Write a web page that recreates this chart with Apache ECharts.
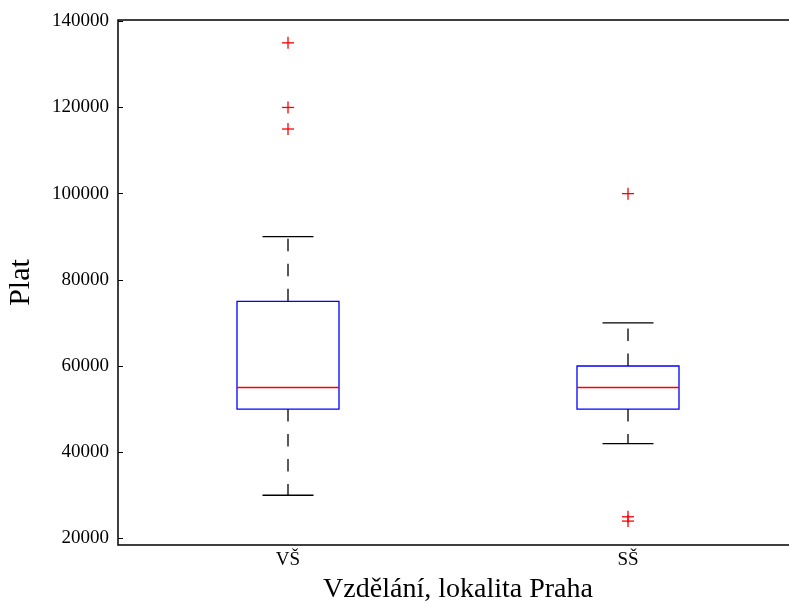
<!DOCTYPE html>
<html>
<head>
<meta charset="utf-8">
<script src="https://cdn.jsdelivr.net/npm/echarts@6/dist/echarts.min.js"></script>
<style>
html,body{margin:0;padding:0;background:#fff;}
#chart{width:789px;height:603px;}
</style>
</head>
<body>
<div id="chart"></div>
<script>
// ---- data ----
var categories = ['VŠ', 'SŠ'];
var whiskerLow = [30000, 42000];
var q1 = [50000, 50000];
var median = [55000, 55000];
var q3 = [75000, 60000];
var whiskerHigh = [90000, 70000];
var outliersVS = [135000, 120000, 115000];
var outliersSS = [100000, 25000, 24000];
var yTicks = [20000, 40000, 60000, 80000, 100000, 120000, 140000];

var boxData = categories.map(function (c, i) {
  return [i, whiskerLow[i], q1[i], median[i], q3[i], whiskerHigh[i]];
});
var flierData = outliersVS.map(function (v) { return [0, v]; })
  .concat(outliersSS.map(function (v) { return [1, v]; }));

var FONT = '"Liberation Serif", serif';
var chart = echarts.init(document.getElementById('chart'), null, {renderer: 'canvas'});

function renderBox(params, api) {
  var idx = api.value(0);
  var band = api.size([1, 0])[0];
  var bw = band * 0.3;
  var cw = bw / 2;
  var pLow = api.coord([idx, api.value(1)]);
  var pQ1 = api.coord([idx, api.value(2)]);
  var pMed = api.coord([idx, api.value(3)]);
  var pQ3 = api.coord([idx, api.value(4)]);
  var pHigh = api.coord([idx, api.value(5)]);
  var x = pQ1[0];
  var dash = {stroke: '#000', lineWidth: 1.3, lineDash: [12.5, 12.5]};
  var solid = {stroke: '#000', lineWidth: 1.3};
  return {
    type: 'group',
    children: [
      {type: 'line', shape: {x1: x, y1: pQ3[1], x2: x, y2: pHigh[1]}, style: dash},
      {type: 'line', shape: {x1: x, y1: pQ1[1], x2: x, y2: pLow[1]}, style: dash},
      {type: 'line', shape: {x1: x - cw / 2, y1: pHigh[1], x2: x + cw / 2, y2: pHigh[1]}, style: solid},
      {type: 'line', shape: {x1: x - cw / 2, y1: pLow[1], x2: x + cw / 2, y2: pLow[1]}, style: solid},
      {type: 'rect', shape: {x: x - bw / 2, y: pQ3[1], width: bw, height: pQ1[1] - pQ3[1]},
        style: {fill: 'none', stroke: '#0000ff', lineWidth: 1.3}},
      {type: 'line', shape: {x1: x - bw / 2, y1: pMed[1], x2: x + bw / 2, y2: pMed[1]},
        style: {stroke: '#ff0000', lineWidth: 1.3}}
    ]
  };
}

function renderFlier(params, api) {
  var p = api.coord([api.value(0), api.value(1)]);
  var h = 6;
  var st = {stroke: '#ff0000', lineWidth: 1.3};
  return {
    type: 'group',
    children: [
      {type: 'line', shape: {x1: p[0] - h, y1: p[1], x2: p[0] + h, y2: p[1]}, style: st},
      {type: 'line', shape: {x1: p[0], y1: p[1] - h, x2: p[0], y2: p[1] + h}, style: st}
    ]
  };
}

chart.setOption({
  animation: false,
  backgroundColor: '#fff',
  grid: {left: 118, top: 20, width: 680, height: 525, show: true,
    containLabel: false, outerBoundsMode: 'none',
    borderColor: '#000', borderWidth: 1.5, backgroundColor: 'transparent'},
  xAxis: {
    type: 'category', data: categories, boundaryGap: true,
    axisLine: {show: false}, axisTick: {show: false},
    axisLabel: {fontFamily: FONT, fontSize: 19, color: '#000', margin: 6},
    name: 'Vzdělání, lokalita Praha', nameLocation: 'middle', nameGap: 31,
    nameTextStyle: {fontFamily: FONT, fontSize: 28, color: '#000'}
  },
  yAxis: {
    type: 'value', min: 18450, max: 140300,
    axisLine: {show: false},
    splitLine: {show: false},
    axisTick: {show: true, inside: true, length: 5, customValues: yTicks,
      lineStyle: {color: '#000', width: 1}},
    axisLabel: {customValues: yTicks, fontFamily: FONT, fontSize: 19, color: '#000', margin: 9,
      formatter: function (v) { return String(v); }},
    name: 'Plat', nameLocation: 'middle', nameGap: 82, nameRotate: 90,
    nameTextStyle: {fontFamily: FONT, fontSize: 30, color: '#000'}
  },
  series: [
    {type: 'custom', data: boxData, renderItem: renderBox, encode: {x: 0, y: [1, 2, 3, 4, 5]}, clip: false},
    {type: 'custom', data: flierData, renderItem: renderFlier, encode: {x: 0, y: 1}, clip: false}
  ]
});
</script>
</body>
</html>
